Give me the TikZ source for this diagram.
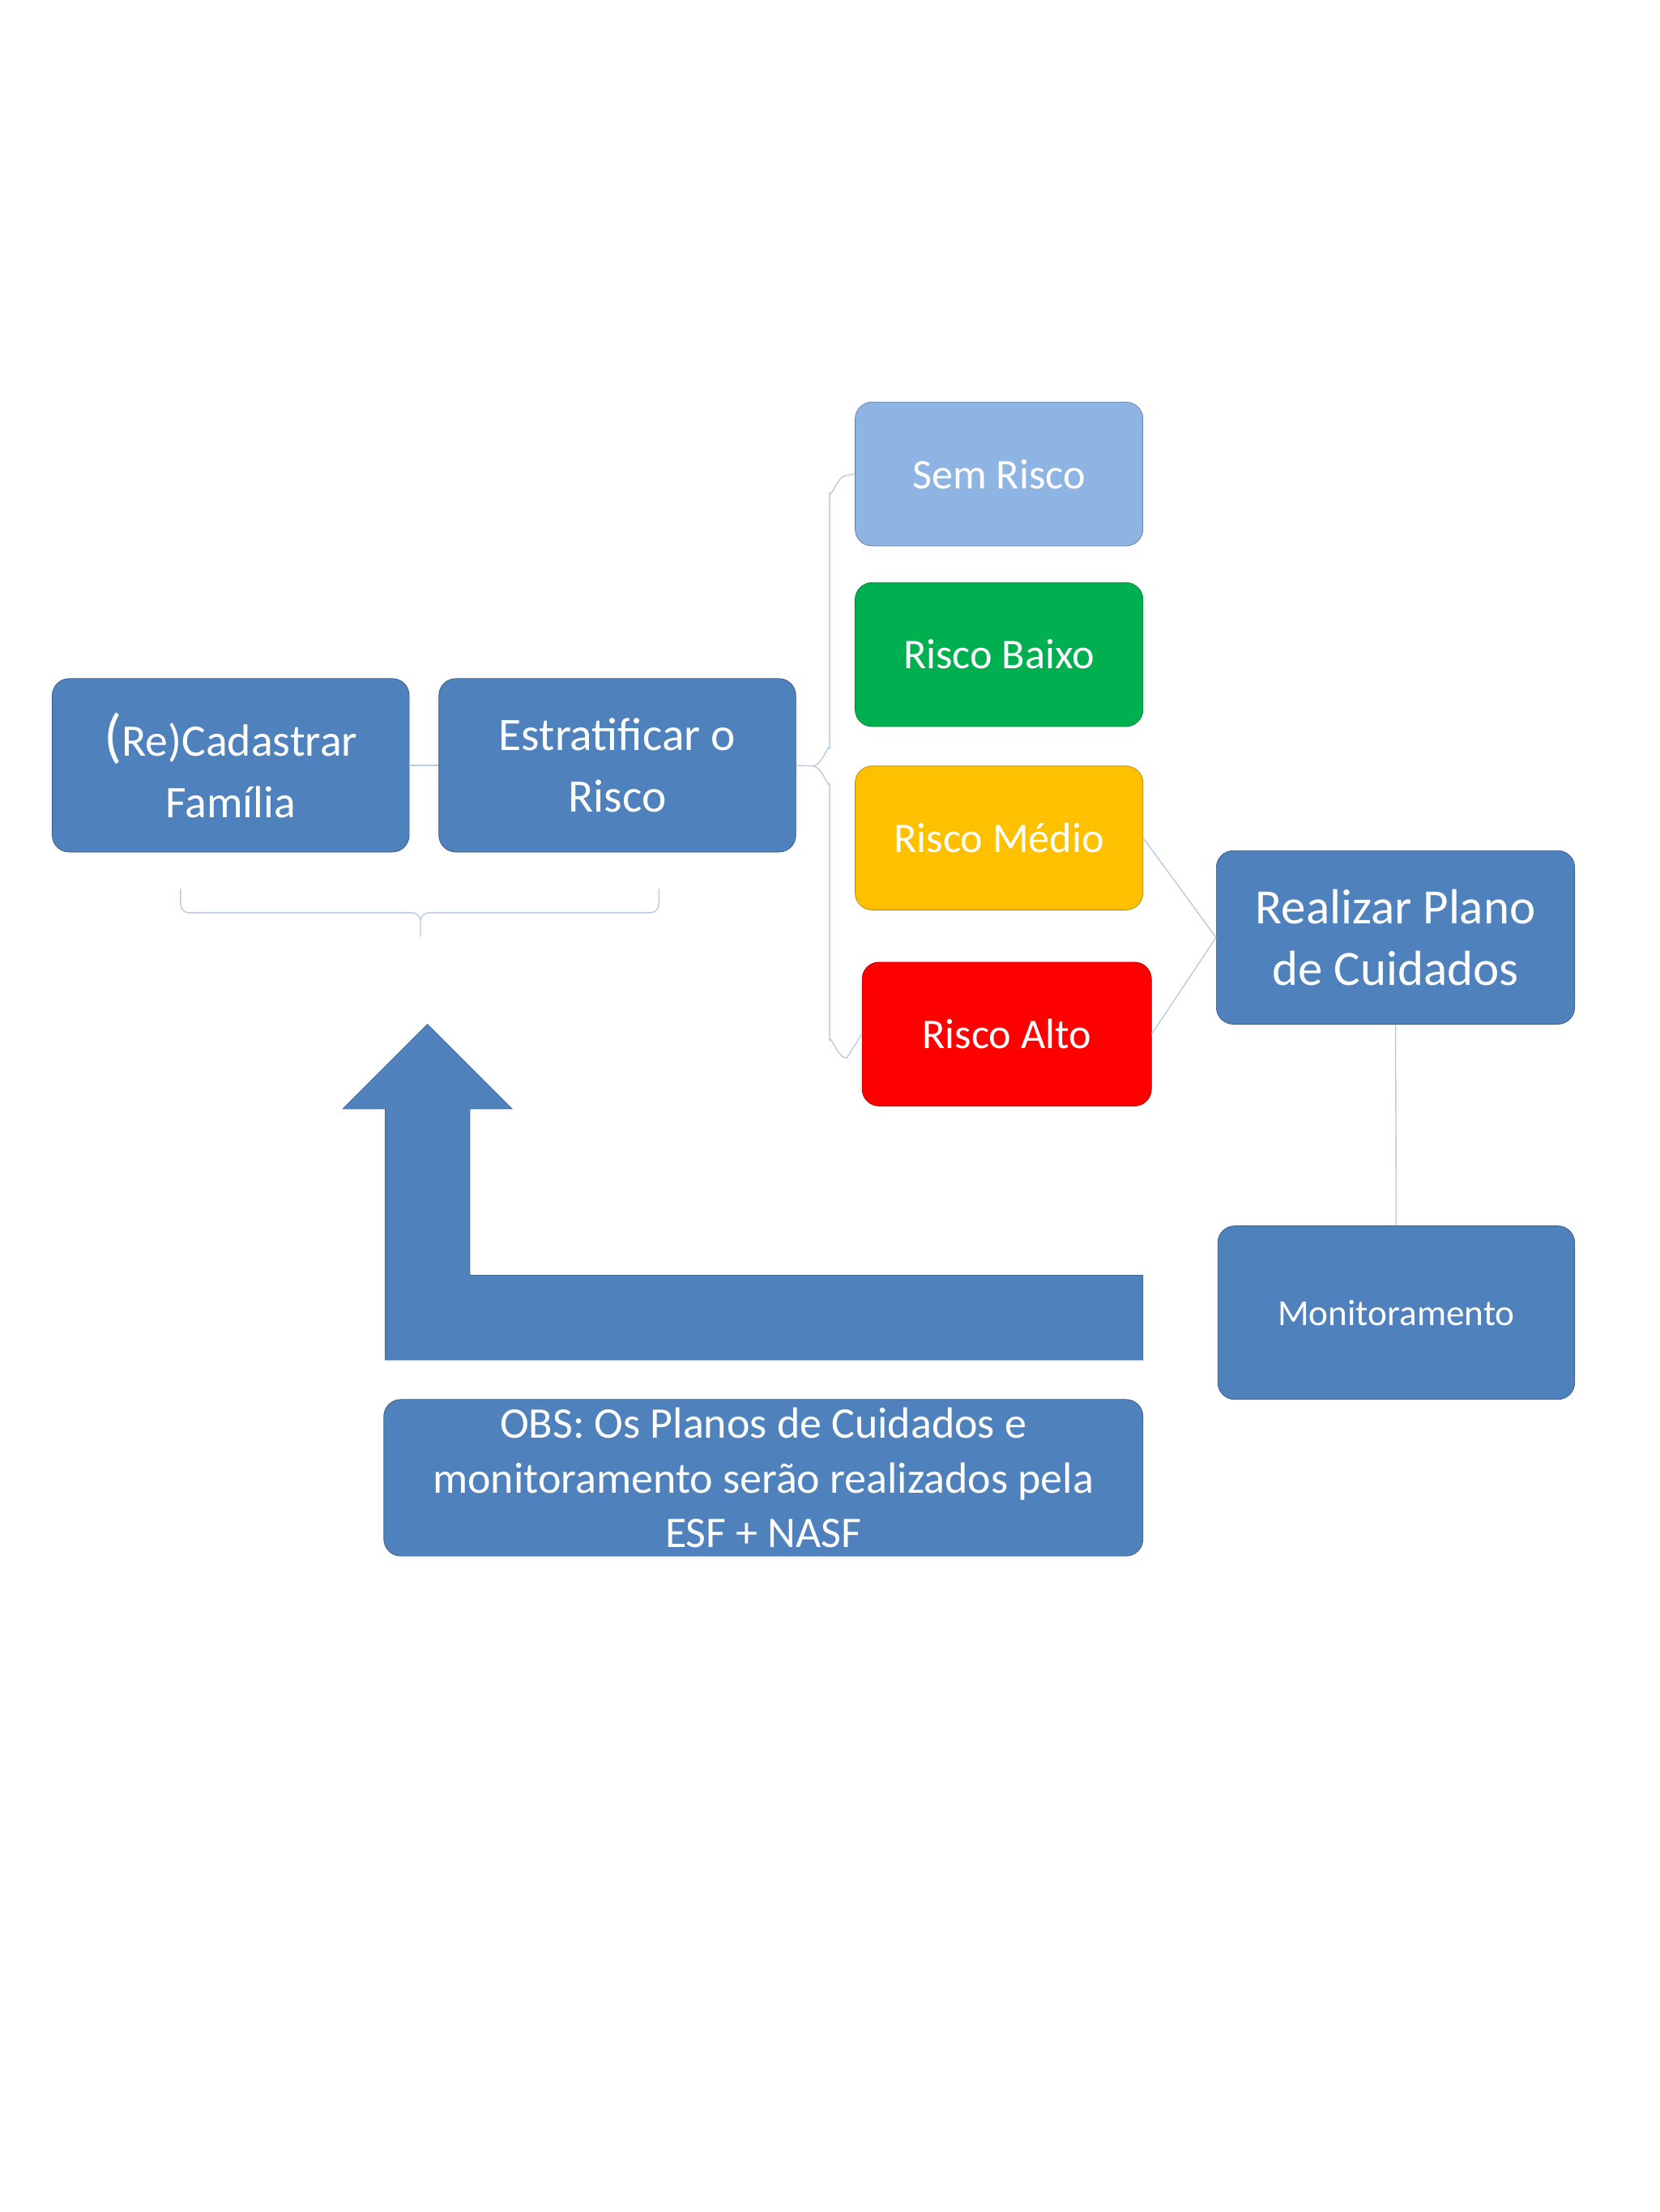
\documentclass[tikz,border=0pt]{standalone}
\usepackage{fontspec}
\setmainfont{Carlito}
\begin{document}
\begin{tikzpicture}[x=1pt,y=-1pt,
 box/.style={draw=#1!70!black,fill=#1,rounded corners=12pt,text=white,align=center,inner sep=0pt},
 conn/.style={draw=lc,line width=0.8pt}]
\definecolor{bl}{HTML}{4F81BD}
\definecolor{sr}{HTML}{8EB4E3}
\definecolor{gr}{HTML}{00B050}
\definecolor{ye}{HTML}{FFC000}
\definecolor{rd}{HTML}{FF0000}
\definecolor{lc}{HTML}{BACBE2}
\useasboundingbox[fill=white] (0,0) rectangle (1176,1568);
\node[box=bl,minimum width=253pt,minimum height=123pt,font=\fontsize{32}{44}\selectfont] (cad) at (163.5,542.5) {{\fontsize{42}{44}\selectfont(}Re)Cadastrar\\Família};
\node[box=bl,minimum width=253pt,minimum height=123pt,font=\fontsize{33}{44}\selectfont] (est) at (437.5,542.5) {Estratificar o\\Risco};
\node[box=sr,minimum width=204pt,minimum height=102pt,font=\fontsize{30}{36}\selectfont] (sem) at (708,336) {Sem Risco};
\node[box=gr,minimum width=204pt,minimum height=102pt,font=\fontsize{30}{36}\selectfont] (bai) at (708,464) {Risco Baixo};
\node[box=ye,minimum width=204pt,minimum height=102pt,font=\fontsize{30}{36}\selectfont] (med) at (708,594) {Risco Médio};
\node[box=rd,minimum width=205pt,minimum height=102pt,font=\fontsize{30}{36}\selectfont] (alt) at (713.5,733) {Risco Alto};
\node[box=bl,minimum width=254pt,minimum height=123pt,font=\fontsize{35}{44}\selectfont] (rea) at (989,664.5) {Realizar Plano\\de Cuidados};
\node[box=bl,minimum width=253pt,minimum height=123pt,font=\fontsize{26}{32}\selectfont] (mon) at (989.5,930.5) {Monitoramento};
\node[box=bl,minimum width=538pt,minimum height=111pt,font=\fontsize{31}{39}\selectfont] (obs) at (541,1047.5) {OBS: Os Planos de Cuidados e\\monitoramento serão realizados pela\\ESF + NASF};
\fill[bl,draw=bl!80!black] (273,964) -- (810,964) -- (810,904) -- (333,904) -- (333,786) -- (363,786) -- (303,726) -- (243,786) -- (273,786) -- cycle;
\draw[conn] (cad.east) -- (est.west);
\draw[conn] (128,630) -- (128,641) to[out=-90,in=180] (134,647) -- (292,647) to[out=0,in=90] (298,653) -- (298,664);
\draw[conn] (298,653) to[out=90,in=180] (304,647) -- (461,647) to[out=0,in=-90] (467,641) -- (467,630);
\draw[conn] (est.east) -- (576,543) to[out=0,in=90] (588,531) -- (588,349) to[out=-90,in=180] (600,337) -- (sem.west);
\draw[conn] (588,555) -- (588,738) to[out=90,in=180] (600,750) -- (alt.west);
\draw[conn] (576,543) to[out=0,in=-90] (588,555);
\draw[conn] (med.east) -- (rea.west);
\draw[conn] (alt.east) -- (rea.west);
\draw[conn] (rea.south) -- (mon.north);
\end{tikzpicture}
\end{document}
